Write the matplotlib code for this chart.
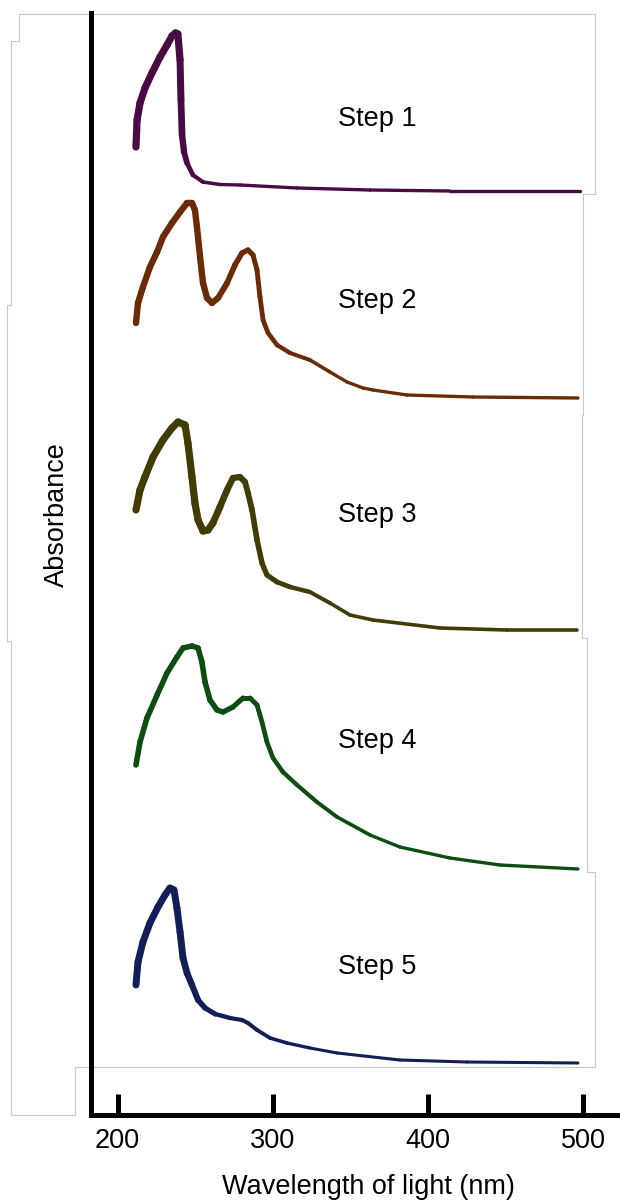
import numpy as np
import matplotlib
matplotlib.use("Agg")
import matplotlib.pyplot as plt
from matplotlib.collections import LineCollection
from matplotlib.lines import Line2D

plt.rcParams['font.family'] = ['Liberation Sans', 'DejaVu Sans']

# wavelength (nm) and relative absorbance
step1_wl = [211.9, 212.6, 214.5, 217.7, 222.2, 227.4, 231.9, 235.1, 237.3, 238.9, 240.3, 240.9, 241.6,
            242.9, 244.8, 248.6, 255.1, 266, 279, 315.7, 362.7, 414, 498]
step1_abs = [0.46, 0.73, 0.90, 1.05, 1.20, 1.36, 1.48, 1.57, 1.60, 1.59, 1.33, 0.93, 0.58,
             0.41, 0.30, 0.18, 0.11, 0.085, 0.08, 0.05, 0.03, 0.02, 0.02]

step2_wl = [211.9, 213.2, 216.4, 220.9, 225.5, 229.3, 235.1, 240.3, 244.8, 248.0, 249.9, 251.2, 253.2,
            255.1, 257.7, 260.9, 264.8, 270.6, 275.7, 280.2, 284.1, 287.3, 289.9, 291.8, 293.8, 297.0,
            302.8, 311.2, 324.0, 336.9, 347.9, 358.2, 364.6, 386.5, 429.0, 496.7]
step2_abs = [0.77, 0.97, 1.13, 1.33, 1.48, 1.63, 1.77, 1.88, 1.97, 1.97, 1.90, 1.73, 1.43,
             1.17, 1.02, 0.97, 1.02, 1.17, 1.35, 1.47, 1.50, 1.45, 1.30, 1.03, 0.80, 0.67,
             0.55, 0.47, 0.40, 0.28, 0.18, 0.12, 0.10, 0.05, 0.03, 0.02]

step3_wl = [211.9, 214.5, 217.7, 222.9, 229.3, 235.1, 239.0, 243.5, 245.4, 248.0, 249.9, 251.9, 255.1,
            258.3, 261.5, 266.0, 270.6, 274.4, 278.9, 282.2, 284.1, 286.7, 289.9, 293.1, 296.3, 302.8,
            311.2, 324.0, 336.9, 349.8, 364.6, 407.8, 450.9, 496.0]
step3_abs = [1.22, 1.42, 1.55, 1.75, 1.92, 2.04, 2.10, 2.07, 1.89, 1.55, 1.29, 1.12, 1.01,
             1.02, 1.09, 1.25, 1.42, 1.54, 1.55, 1.50, 1.39, 1.22, 0.92, 0.69, 0.57, 0.50,
             0.45, 0.40, 0.29, 0.17, 0.12, 0.04, 0.02, 0.02]

step4_wl = [211.9, 214.5, 219.0, 225.5, 231.9, 238.3, 242.2, 248.0, 251.9, 254.4, 256.4, 259.6, 264.1,
            268.0, 274.4, 280.9, 285.4, 289.9, 293.1, 296.3, 300.2, 306.6, 315.7, 328.5, 341.5, 362.7,
            382.0, 414.2, 446.4, 496.7]
step4_abs = [1.07, 1.30, 1.54, 1.77, 1.99, 2.15, 2.24, 2.26, 2.24, 2.10, 1.90, 1.72, 1.62,
             1.60, 1.65, 1.74, 1.74, 1.67, 1.50, 1.30, 1.14, 1.00, 0.87, 0.70, 0.55, 0.37,
             0.25, 0.14, 0.07, 0.03]

step5_wl = [211.9, 213.2, 216.4, 220.9, 226.1, 230.6, 233.8, 236.4, 238.3, 240.3, 242.2, 244.8, 248.0,
            251.9, 256.4, 262.9, 272.5, 280.2, 284.1, 289.9, 298.3, 309.2, 324.0, 341.5, 382.0, 425.2, 496.7]
step5_abs = [0.80, 1.03, 1.23, 1.42, 1.58, 1.70, 1.77, 1.75, 1.57, 1.33, 1.07, 0.92, 0.80,
             0.65, 0.57, 0.51, 0.47, 0.45, 0.42, 0.35, 0.27, 0.22, 0.17, 0.12, 0.05, 0.03, 0.02]

step_names = ['Step 1', 'Step 2', 'Step 3', 'Step 4', 'Step 5']
offsets = [921.5, 714.5, 482.5, 242.5, 49.5]
colors = ['#4a0b45', '#6a2c06', '#403c04', '#0d4d12', '#131d58']
label_y = [995, 813, 600, 374, 148]

# line width profile (pt) - the pasted spectra are thick at the peaks, thin in the tail
width_knots = [
    ([240, 248, 265], [5.2, 3.0, 2.4]),
    ([258, 295, 340], [4.6, 3.4, 2.4]),
    ([258, 295, 340], [5.2, 3.8, 2.6]),
    ([262, 305, 370], [4.0, 3.2, 2.4]),
    ([242, 265, 330], [5.0, 3.2, 2.2]),
]

wls = [step1_wl, step2_wl, step3_wl, step4_wl, step5_wl]
absorb = [step1_abs, step2_abs, step3_abs, step4_abs, step5_abs]

fig = plt.figure(figsize=(6.2, 12), dpi=100)
ax = fig.add_axes([90.5 / 620, 1 - 1114.5 / 1200, 1 - 90.5 / 620, (1114.5 - 13) / 1200])
ax.patch.set_visible(False)

for i in range(5):
    x = np.array(wls[i])
    y = offsets[i] + 100 * np.array(absorb[i])
    pts = np.column_stack([x, y])
    segs = np.stack([pts[:-1], pts[1:]], axis=1)
    mid = (x[:-1] + x[1:]) / 2
    kx, kw = width_knots[i]
    lws = np.interp(mid, kx, kw)
    lc = LineCollection(segs, colors=colors[i], linewidths=lws, capstyle='round', joinstyle='round')
    ax.add_collection(lc)
    ax.text(342, label_y[i], step_names[i], fontsize=19.5, ha='left', va='center', color='black')

ax.set_xlim(182.6, 523.8)
ax.set_ylim(0, 1101.5)
ax.set_xticks([200, 300, 400, 500])
ax.set_yticks([])
ax.tick_params(axis='x', direction='in', length=15, width=3.6, pad=10, labelsize=19.5)
for s in ['top', 'right']:
    ax.spines[s].set_visible(False)
for s in ['left', 'bottom']:
    ax.spines[s].set_linewidth(3.6)
    ax.spines[s].set_capstyle('projecting')

ax.set_xlabel('Wavelength of light (nm)', fontsize=19.5)
ax.xaxis.set_label_coords(0.524, -0.054)
fig.text(57 / 620, 1 - 515 / 1200, 'Absorbance', rotation=90, ha='center', va='center', fontsize=19.5)

# faint outline of the pasted spectrum panels
frame_px = [(19, 14), (595, 14), (595, 194), (583, 194), (583, 415), (582, 415), (582, 638),
            (587, 638), (587, 872), (595, 872), (595, 1067), (75, 1067), (75, 1115), (11, 1115),
            (11, 641), (7, 641), (7, 305), (11, 305), (11, 41), (19, 41), (19, 14)]
fx = [p[0] / 620 for p in frame_px]
fy = [1 - p[1] / 1200 for p in frame_px]
fig.add_artist(Line2D(fx, fy, transform=fig.transFigure, color='#c8c8c8', lw=0.8, zorder=0))

fig.savefig('out.png', dpi=100, facecolor='white')
